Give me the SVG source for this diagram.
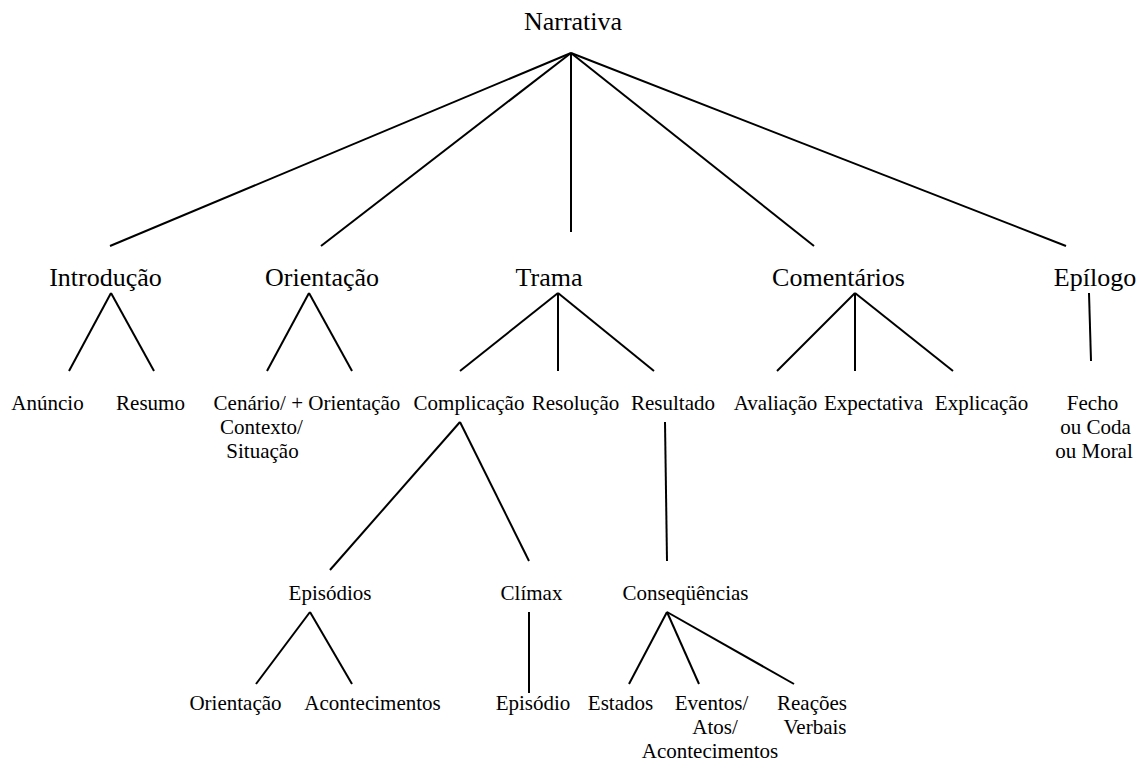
<svg xmlns="http://www.w3.org/2000/svg" width="1148" height="762" viewBox="0 0 1148 762">
<style>
text{font-family:"Liberation Serif","Times New Roman",serif;fill:#000;text-anchor:middle}
.l0{font-size:26px}
.l1{font-size:26px}
.l2{font-size:21px}
#connectors line{stroke:#000;stroke-width:2;stroke-linecap:butt}
</style>
<rect width="1148" height="762" fill="#fff"/>
<g id="connectors">
<line x1="571" y1="53" x2="110" y2="246"/>
<line x1="571" y1="53" x2="321" y2="246"/>
<line x1="571" y1="53" x2="571" y2="232"/>
<line x1="571" y1="53" x2="814" y2="246"/>
<line x1="571" y1="53" x2="1066" y2="246"/>
<line x1="111" y1="293" x2="69" y2="371"/>
<line x1="111" y1="293" x2="154" y2="371"/>
<line x1="309" y1="293" x2="267" y2="371"/>
<line x1="309" y1="293" x2="352" y2="371"/>
<line x1="558" y1="293" x2="460" y2="371"/>
<line x1="558" y1="293" x2="558" y2="371"/>
<line x1="558" y1="293" x2="654" y2="371"/>
<line x1="855" y1="293" x2="777" y2="371"/>
<line x1="855" y1="293" x2="855" y2="371"/>
<line x1="855" y1="293" x2="953" y2="371"/>
<line x1="1089" y1="293" x2="1091" y2="361"/>
<line x1="460" y1="422" x2="330" y2="570"/>
<line x1="460" y1="422" x2="529" y2="561"/>
<line x1="665" y1="422" x2="667" y2="561"/>
<line x1="310" y1="612" x2="256" y2="684"/>
<line x1="310" y1="612" x2="352" y2="684"/>
<line x1="529" y1="612" x2="529" y2="693"/>
<line x1="667" y1="612" x2="629" y2="684"/>
<line x1="667" y1="612" x2="699" y2="684"/>
<line x1="667" y1="612" x2="794" y2="684"/>
</g>
<g id="n-narrativa"><text class="l0" x="573" y="30">Narrativa</text></g>
<g id="n-introducao"><text class="l1" x="105.5" y="286">Introdução</text></g>
<g id="n-orientacao"><text class="l1" x="322" y="286">Orientação</text></g>
<g id="n-trama"><text class="l1" x="549" y="286">Trama</text></g>
<g id="n-comentarios"><text class="l1" x="838.5" y="286">Comentários</text></g>
<g id="n-epilogo"><text class="l1" x="1095" y="286">Epílogo</text></g>
<g id="n-anuncio"><text class="l2" x="47.5" y="410">Anúncio</text></g>
<g id="n-resumo"><text class="l2" x="150.5" y="410">Resumo</text></g>
<g id="n-cenario"><text class="l2" x="307" y="410">Cenário/ + Orientação</text><text class="l2" x="261.5" y="434">Contexto/</text><text class="l2" x="262.5" y="458">Situação</text></g>
<g id="n-complicacao"><text class="l2" x="469" y="410">Complicação</text></g>
<g id="n-resolucao"><text class="l2" x="575.5" y="410">Resolução</text></g>
<g id="n-resultado"><text class="l2" x="673" y="410">Resultado</text></g>
<g id="n-avaliacao"><text class="l2" x="775.5" y="410">Avaliação</text></g>
<g id="n-expectativa"><text class="l2" x="873.5" y="410">Expectativa</text></g>
<g id="n-explicacao"><text class="l2" x="981.5" y="410">Explicação</text></g>
<g id="n-fecho"><text class="l2" x="1092.5" y="410">Fecho</text><text class="l2" x="1095.5" y="434">ou Coda</text><text class="l2" x="1094" y="458">ou Moral</text></g>
<g id="n-episodios"><text class="l2" x="330" y="600">Episódios</text></g>
<g id="n-climax"><text class="l2" x="531.5" y="600">Clímax</text></g>
<g id="n-consequencias"><text class="l2" x="685.5" y="600">Conseqüências</text></g>
<g id="n-orientacao2"><text class="l2" x="235.5" y="710">Orientação</text></g>
<g id="n-acontecimentos"><text class="l2" x="372.5" y="710">Acontecimentos</text></g>
<g id="n-episodio"><text class="l2" x="533" y="710">Episódio</text></g>
<g id="n-estados"><text class="l2" x="620.5" y="710">Estados</text></g>
<g id="n-eventos"><text class="l2" x="711.5" y="710">Eventos/</text><text class="l2" x="715" y="734">Atos/</text><text class="l2" x="710" y="758">Acontecimentos</text></g>
<g id="n-reacoes"><text class="l2" x="812" y="710">Reações</text><text class="l2" x="815" y="734">Verbais</text></g>
</svg>
